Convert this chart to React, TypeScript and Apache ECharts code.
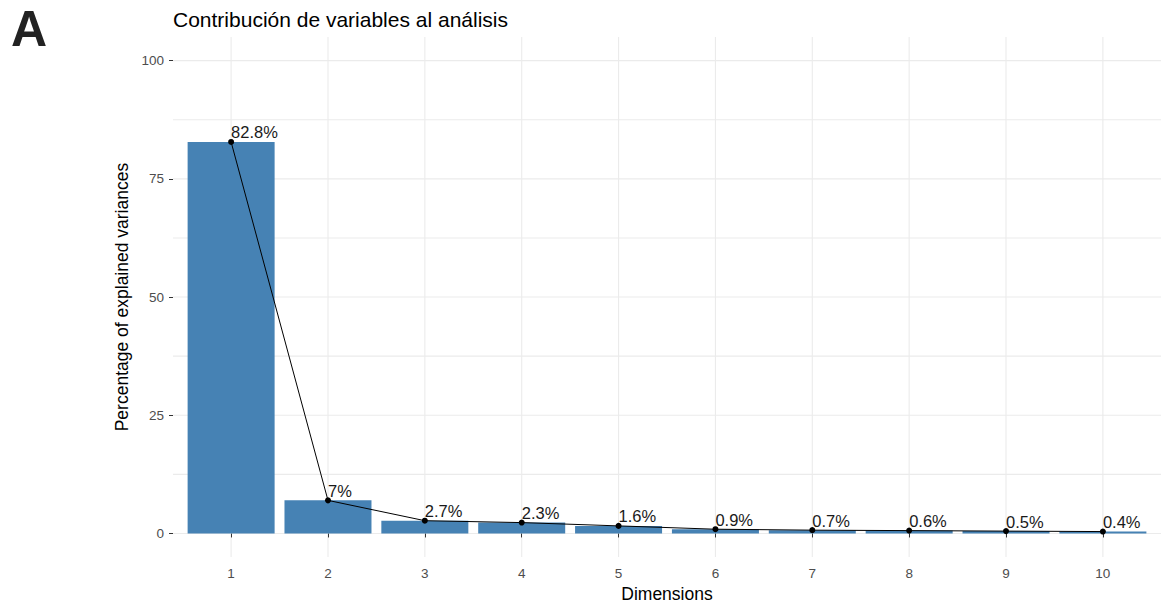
import React, { useEffect, useRef } from "react";
import * as echarts from "echarts";

const dimensions = [1, 2, 3, 4, 5, 6, 7, 8, 9, 10];
const explainedVariance = [82.8, 7.0, 2.7, 2.3, 1.6, 0.9, 0.7, 0.6, 0.5, 0.4];
const valueLabels = ["82.8%", "7%", "2.7%", "2.3%", "1.6%", "0.9%", "0.7%", "0.6%", "0.5%", "0.4%"];
const yTicks = [0, 25, 50, 75, 100];
const yMinorGrid = [12.5, 37.5, 62.5, 87.5];

export default function App() {
  const ref = useRef<HTMLDivElement>(null);
  useEffect(() => {
    const chart = echarts.init(ref.current!, null, { renderer: "svg" });
    const font = "'Liberation Sans', Arial, sans-serif";
    const gridColor = "#ebebeb";
    chart.setOption({
      animation: false,
      textStyle: { fontFamily: font },
      title: {
        text: "Contribución de variables al análisis",
        left: 168,
        top: 4,
        textStyle: { fontSize: 21, fontWeight: "normal", color: "#000", fontFamily: font },
      },
      graphic: [
        {
          type: "text",
          left: 11,
          top: 4,
          style: { text: "A", font: "bold 50px 'Liberation Sans', Arial, sans-serif", fill: "#222" },
        },
      ],
      grid: { left: 173, right: 6, top: 37, bottom: 50 },
      xAxis: {
        type: "value",
        min: 0.4,
        max: 10.6,
        name: "Dimensions",
        nameLocation: "middle",
        nameGap: 26,
        nameTextStyle: { fontSize: 17.5, color: "#000", fontFamily: font },
        axisLine: { show: false },
        splitLine: { show: false },
        axisTick: { show: true, customValues: dimensions, length: 4, lineStyle: { color: "#333", width: 1 } },
        axisLabel: { customValues: dimensions, margin: 9, fontSize: 13.5, color: "#4d4d4d", fontFamily: font },
      },
      yAxis: {
        type: "value",
        min: -5,
        max: 105,
        name: "Percentage of explained variances",
        nameLocation: "middle",
        nameGap: 35,
        nameTextStyle: { fontSize: 17.5, color: "#000", fontFamily: font },
        axisLine: { show: false },
        splitLine: { show: false },
        axisTick: { show: true, customValues: yTicks, length: 4, lineStyle: { color: "#333", width: 1 } },
        axisLabel: { customValues: yTicks, margin: 9, fontSize: 13.5, color: "#4d4d4d", fontFamily: font },
      },
      series: [
        {
          type: "custom",
          z: 0,
          silent: true,
          clip: false,
          data: yTicks.concat(yMinorGrid).map((v) => [1, v]),
          renderItem: (params: any, api: any) => {
            const cs = params.coordSys;
            const y = api.coord([1, api.value(1)])[1];
            return {
              type: "line",
              shape: { x1: cs.x, y1: y, x2: cs.x + cs.width, y2: y },
              style: { stroke: gridColor, lineWidth: 1.1 },
            };
          },
        },
        {
          type: "custom",
          z: 0,
          silent: true,
          clip: false,
          data: dimensions.map((d) => [d, 0]),
          renderItem: (params: any, api: any) => {
            const cs = params.coordSys;
            const x = api.coord([api.value(0), 0])[0];
            return {
              type: "line",
              shape: { x1: x, y1: cs.y, x2: x, y2: cs.y + cs.height },
              style: { stroke: gridColor, lineWidth: 1.1 },
            };
          },
        },
        {
          type: "bar",
          z: 2,
          barWidth: 87,
          itemStyle: { color: "#4682B4" },
          data: dimensions.map((d, i) => [d, explainedVariance[i]]),
        },
        {
          type: "line",
          z: 3,
          symbol: "circle",
          symbolSize: 6,
          itemStyle: { color: "#000" },
          lineStyle: { color: "#000", width: 1 },
          data: dimensions.map((d, i) => [d, explainedVariance[i]]),
          label: {
            show: true,
            position: "top",
            align: "left",
            distance: -2,
            fontSize: 16.5,
            color: "#1a1a1a",
            fontFamily: font,
            formatter: (p: any) => valueLabels[p.dataIndex],
          },
        },
      ],
    });
    return () => chart.dispose();
  }, []);
  return <div ref={ref} style={{ width: 1167, height: 608, position: "absolute", left: 0, top: 0 }} />;
}
